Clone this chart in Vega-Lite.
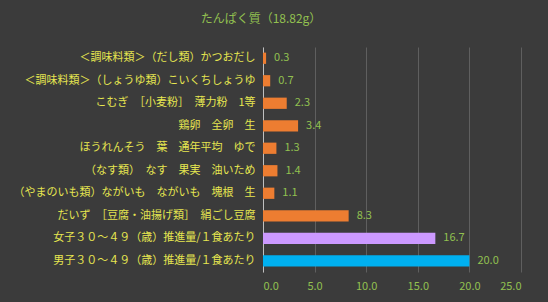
{
  "$schema": "https://vega.github.io/schema/vega-lite/v6.json",
  "autosize": "none",
  "width": 258,
  "height": 225,
  "padding": {"left": 263, "top": 47, "right": 27, "bottom": 30},
  "background": "#3b3b3b",
  "title": {
    "text": "たんぱく質（18.82g）",
    "font": "Noto Sans CJK JP",
    "fontSize": 12,
    "fontWeight": "normal",
    "color": "#92c050",
    "anchor": "middle",
    "dx": -131,
    "offset": 21
  },
  "data": {
    "values": [
      {"name": "＜調味料類＞（だし類）かつおだし", "value": 0.3, "group": "food"},
      {"name": "＜調味料類＞（しょうゆ類）こいくちしょうゆ", "value": 0.7, "group": "food"},
      {"name": "こむぎ　［小麦粉］　薄力粉　1等", "value": 2.3, "group": "food"},
      {"name": "鶏卵　全卵　生", "value": 3.4, "group": "food"},
      {"name": "ほうれんそう　葉　通年平均　ゆで", "value": 1.3, "group": "food"},
      {"name": "（なす類）　なす　果実　油いため", "value": 1.4, "group": "food"},
      {"name": "（やまのいも類）ながいも　ながいも　塊根　生", "value": 1.1, "group": "food"},
      {"name": "だいず　［豆腐・油揚げ類］　絹ごし豆腐", "value": 8.3, "group": "food"},
      {"name": "女子３０～４９（歳）推進量/１食あたり", "value": 16.7, "group": "female"},
      {"name": "男子３０～４９（歳）推進量/１食あたり", "value": 20.0, "group": "male"}
    ]
  },
  "encoding": {
    "y": {
      "field": "name",
      "type": "nominal",
      "sort": null,
      "scale": {"paddingInner": 0.5, "paddingOuter": 0.25},
      "axis": {
        "title": null,
        "ticks": false,
        "domain": true,
        "domainColor": "#bfbfbf",
        "labelFont": "Noto Sans CJK JP",
        "labelFontSize": 11,
        "labelColor": "#e6e650",
        "labelPadding": 8,
        "labelLimit": 300,
        "grid": false
      }
    },
    "x": {
      "field": "value",
      "type": "quantitative",
      "scale": {"domain": [0, 25], "nice": false},
      "axis": {
        "title": null,
        "values": [0, 5, 10, 15, 20, 25],
        "format": ".1f",
        "domain": false,
        "ticks": false,
        "grid": true,
        "gridColor": "#5f5f5f",
        "gridWidth": 1,
        "labelFont": "Noto Sans CJK JP",
        "labelFontSize": 11,
        "labelColor": "#92c050",
        "labelPadding": 8
      }
    }
  },
  "layer": [
    {
      "mark": {"type": "bar"},
      "encoding": {
        "color": {
          "field": "group",
          "type": "nominal",
          "scale": {"domain": ["food", "female", "male"], "range": ["#ed7d31", "#cc99ff", "#00b0f0"]},
          "legend": null
        }
      }
    },
    {
      "mark": {"type": "text", "align": "left", "dx": 8, "font": "Noto Sans CJK JP", "fontSize": 11, "color": "#92c050"},
      "encoding": {
        "text": {"field": "value", "type": "quantitative", "format": ".1f"}
      }
    }
  ],
  "config": {"view": {"stroke": null}}
}
